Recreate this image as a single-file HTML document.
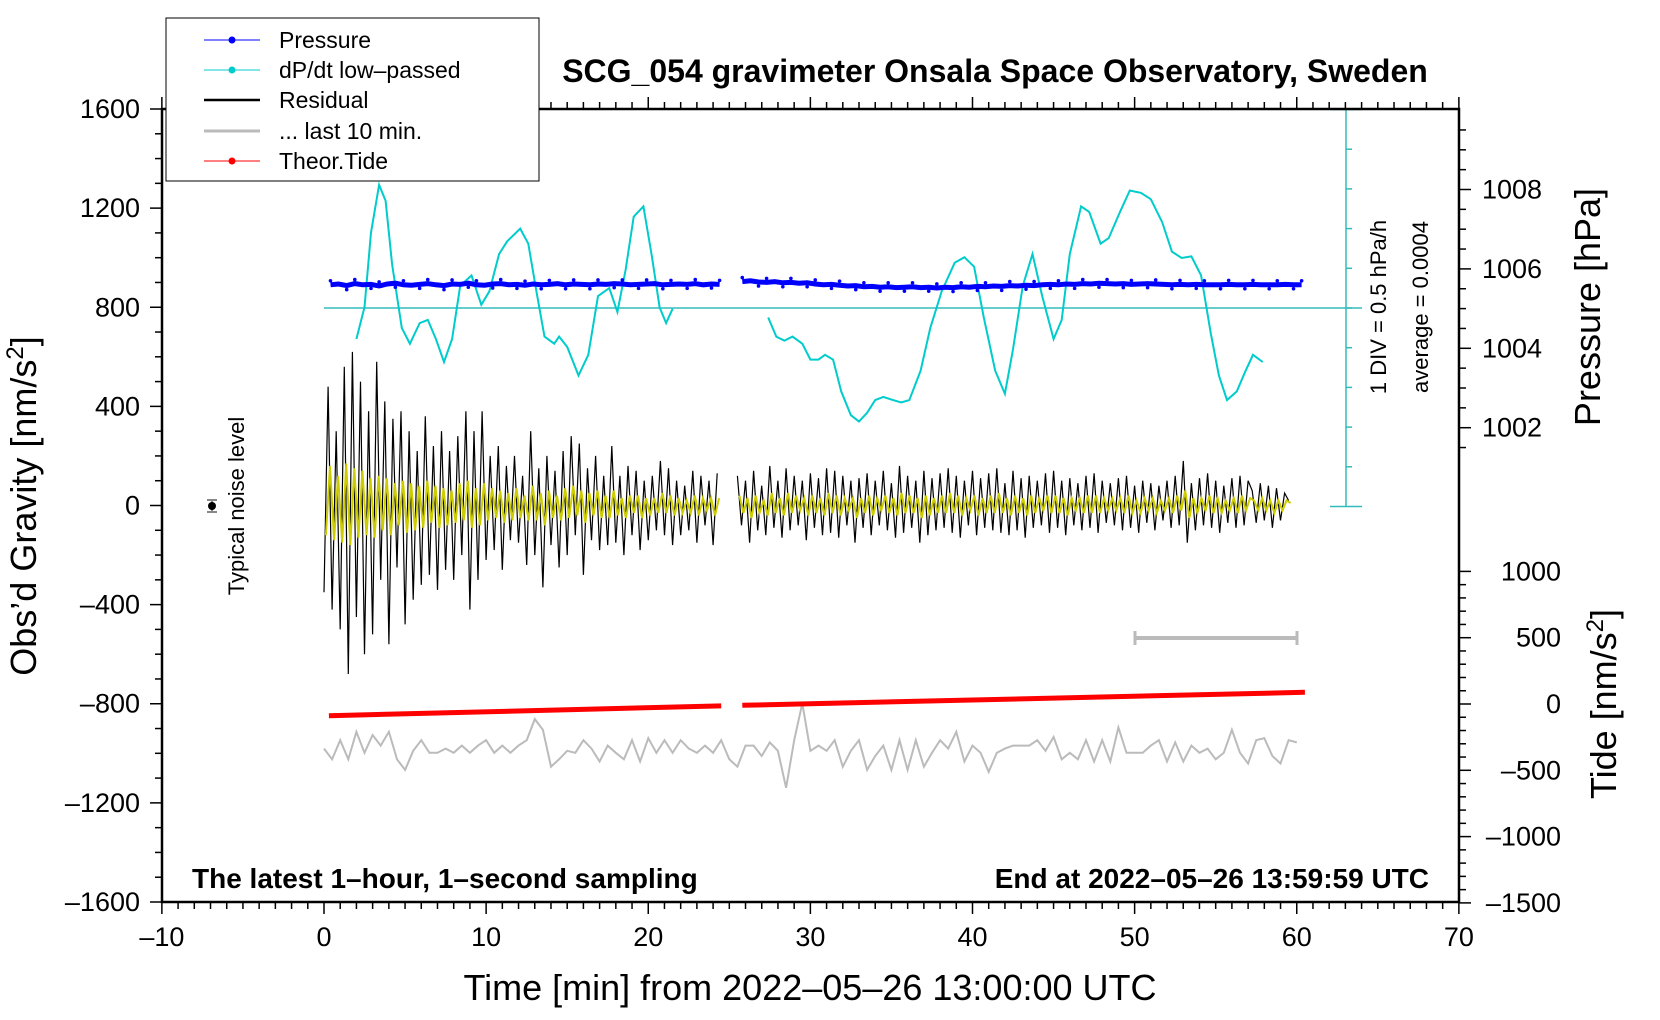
<!DOCTYPE html>
<html><head><meta charset="utf-8">
<style>
html,body{margin:0;padding:0;background:#fff;}
svg{display:block;font-family:"Liberation Sans",Arial,sans-serif;}
</style></head>
<body>
<svg id="chart" width="1660" height="1020" viewBox="0 0 1660 1020" xmlns="http://www.w3.org/2000/svg">
<rect x="0" y="0" width="1660" height="1020" fill="#fff"/>
<g id="ticks"></g>
<g id="series"></g>
<rect x="162" y="109" width="1297" height="793" fill="none" stroke="#000" stroke-width="2.5"/>
<text x="995" y="82" font-size="32" font-weight="bold" text-anchor="middle">SCG_054 gravimeter Onsala Space Observatory, Sweden</text>
<text x="192" y="888" font-size="28" font-weight="bold">The latest 1–hour, 1–second sampling</text>
<text x="1429" y="888" font-size="28" font-weight="bold" text-anchor="end">End at 2022–05–26 13:59:59 UTC</text>
<text transform="translate(36,506) rotate(-90)" font-size="36" text-anchor="middle">Obs’d Gravity [nm/s<tspan dy="-13" font-size="24">2</tspan><tspan dy="13">]</tspan></text>
<text x="810" y="1000" font-size="36" text-anchor="middle">Time [min] from 2022–05–26 13:00:00 UTC</text>
<text transform="translate(1600,307) rotate(-90)" font-size="36" text-anchor="middle">Pressure [hPa]</text>
<text transform="translate(1616,704) rotate(-90)" font-size="36" text-anchor="middle">Tide [nm/s<tspan dy="-13" font-size="24">2</tspan><tspan dy="13">]</tspan></text>
<text transform="translate(244,506) rotate(-90)" font-size="22" text-anchor="middle">Typical noise level</text>
<g>
<line x1="212" y1="500" x2="212" y2="512" stroke="#888" stroke-width="2"/>
<line x1="207" y1="500" x2="217" y2="500" stroke="#888" stroke-width="2"/>
<line x1="207" y1="512" x2="217" y2="512" stroke="#888" stroke-width="2"/>
<circle cx="212" cy="506" r="4" fill="#000"/>
</g>
<text transform="translate(1386,307) rotate(-90)" font-size="22" text-anchor="middle">1 DIV = 0.5 hPa/h</text>
<text transform="translate(1428,307) rotate(-90)" font-size="22" text-anchor="middle">average = 0.0004</text>
<g>
<line x1="1135" y1="638" x2="1297" y2="638" stroke="#bbb" stroke-width="4"/>
<line x1="1135" y1="631" x2="1135" y2="645" stroke="#bbb" stroke-width="3"/>
<line x1="1297" y1="631" x2="1297" y2="645" stroke="#bbb" stroke-width="3"/>
</g>
<g>
<rect x="166" y="18" width="373" height="163" fill="#fff" stroke="#000" stroke-width="1"/>
<g><line x1="204" y1="40" x2="260" y2="40" stroke="#00f" stroke-width="1"/><circle cx="232" cy="40" r="3.5" fill="#00f"/><text x="279" y="48" font-size="23">Pressure</text></g>
<g><line x1="204" y1="70" x2="260" y2="70" stroke="#0cc" stroke-width="1"/><circle cx="232" cy="70" r="3.5" fill="#0cc"/><text x="279" y="78" font-size="23">dP/dt low–passed</text></g>
<g><line x1="204" y1="100" x2="260" y2="100" stroke="#000" stroke-width="2.5"/><text x="279" y="108" font-size="23">Residual</text></g>
<g><line x1="204" y1="131" x2="260" y2="131" stroke="#bbb" stroke-width="3"/><text x="279" y="139" font-size="23">... last 10 min.</text></g>
<g><line x1="204" y1="161" x2="260" y2="161" stroke="#f00" stroke-width="1"/><circle cx="232" cy="161" r="3.5" fill="#f00"/><text x="279" y="169" font-size="23">Theor.Tide</text></g>
</g>
</svg>
<script>
// ---------- data ----------
const xTickLabels = [-10,0,10,20,30,40,50,60,70];
const gravTickLabels = [1600,1200,800,400,0,-400,-800,-1200,-1600];
const pressTickLabels = [1008,1006,1004,1002];
const tideTickLabels = [1000,500,0,-500,-1000,-1500];

const dpSeg1T = [2.0,2.5,2.9,3.4,3.8,4.2,4.8,5.3,5.9,6.4,6.9,7.4,7.9,8.4,9.1,9.7,10.2,10.8,11.3,12.1,12.6,13.1,13.6,14.2,14.5,15.0,15.7,16.3,16.9,17.6,18.1,18.6,19.1,19.7,20.2,20.7,21.1,21.5];
const dpSeg1V = [-0.39,0.01,0.95,1.55,1.35,0.55,-0.25,-0.45,-0.19,-0.15,-0.39,-0.68,-0.39,0.28,0.41,0.04,0.21,0.68,0.84,1.0,0.81,0.21,-0.36,-0.45,-0.36,-0.49,-0.85,-0.59,0.15,0.25,-0.05,0.48,1.15,1.28,0.68,0.01,-0.19,-0.01];
const dpSeg2T = [27.4,27.9,28.4,28.9,29.5,30.0,30.5,30.9,31.4,31.9,32.5,33.0,33.5,34.0,34.5,35.1,35.6,36.1,36.8,37.4,38.1,38.9,39.5,40.1,40.7,41.4,42.0,42.5,43.1,43.7,44.3,45.0,45.5,46.0,46.7,47.2,47.9,48.4,49.1,49.7,50.4,51.0,51.7,52.3,52.9,53.5,54.1,54.7,55.2,55.7,56.3,56.8,57.3,57.9];
const dpSeg2V = [-0.12,-0.36,-0.41,-0.36,-0.45,-0.65,-0.65,-0.59,-0.65,-1.05,-1.35,-1.43,-1.32,-1.16,-1.12,-1.16,-1.19,-1.16,-0.79,-0.25,0.21,0.57,0.64,0.52,-0.12,-0.79,-1.08,-0.52,0.28,0.68,0.15,-0.39,-0.15,0.68,1.28,1.21,0.81,0.88,1.21,1.48,1.45,1.37,1.08,0.71,0.63,0.65,0.41,-0.32,-0.85,-1.16,-1.05,-0.81,-0.59,-0.68];

const pressSeg1 = [1005.60,1005.62,1005.58,1005.63,1005.60,1005.61,1005.57,1005.62,1005.64,1005.60,1005.59,1005.61,1005.63,1005.60,1005.58,1005.62,1005.61,1005.64,1005.60,1005.59,1005.62,1005.63,1005.60,1005.61,1005.59,1005.62,1005.60,1005.61,1005.63,1005.60,1005.62,1005.61,1005.60,1005.62,1005.61,1005.63,1005.62,1005.60,1005.61,1005.62,1005.63,1005.60,1005.61,1005.62,1005.61,1005.63,1005.60,1005.62,1005.61];
const pressSeg2 = [1005.68,1005.70,1005.67,1005.66,1005.68,1005.65,1005.66,1005.64,1005.65,1005.62,1005.60,1005.61,1005.59,1005.57,1005.58,1005.55,1005.56,1005.54,1005.55,1005.53,1005.54,1005.55,1005.53,1005.54,1005.52,1005.54,1005.53,1005.55,1005.54,1005.56,1005.55,1005.57,1005.56,1005.58,1005.57,1005.59,1005.58,1005.60,1005.61,1005.60,1005.62,1005.61,1005.63,1005.62,1005.64,1005.63,1005.62,1005.63,1005.61,1005.62,1005.63,1005.62,1005.61,1005.60,1005.61,1005.60,1005.61,1005.60,1005.60,1005.60,1005.61,1005.60,1005.60,1005.61,1005.60,1005.60,1005.60,1005.61,1005.60,1005.60];

const resSeg1 = [-350,480,-420,300,-500,560,-680,620,-450,500,-600,380,-520,580,-300,420,-560,350,-250,380,-480,300,-380,220,-320,360,-280,240,-340,300,-260,220,-300,280,-200,380,-420,300,-300,380,-220,200,-180,240,-260,160,-140,200,-150,120,-240,300,-200,150,-330,200,-160,140,-250,220,-200,280,-120,250,-280,150,-140,200,-180,120,-160,240,-150,120,-200,160,-120,140,-180,100,-140,120,-100,180,-120,150,-160,100,-120,80,-100,140,-150,120,-80,100,-160,130];
const resSeg2 = [120,-80,100,-150,140,-100,80,-120,160,-90,100,-130,150,-100,120,-80,100,-140,130,-90,110,-120,150,-110,140,-130,120,-80,100,-150,110,-90,130,-120,100,-80,140,-100,90,-130,160,-110,120,-90,100,-150,140,-120,110,-100,130,-90,150,-110,120,-130,100,-80,140,-120,110,-90,130,-100,150,-110,90,-120,140,-100,110,-130,120,-90,100,-80,130,-110,140,-90,100,-120,110,-80,90,-100,120,-90,130,-110,100,-70,90,-80,110,-100,120,-90,80,-110,100,-70,90,-100,80,-60,100,-90,120,-80,180,-150,90,-100,110,-80,130,-90,100,-110,80,-70,110,-90,120,-80,100,60,-70,90,-60,80,-90,70,-60,50,20];
const yelSeg1 = [-120,160,-140,120,-150,170,-160,150,-130,140,-120,110,-130,120,-100,110,-120,90,-80,100,-110,90,-100,80,-90,100,-70,80,-90,70,-80,60,-70,90,-60,100,-90,70,-80,90,-60,70,-50,60,-70,50,-60,70,-50,40,-60,80,-60,50,-80,60,-50,40,-60,70,-50,80,-40,60,-70,50,-40,60,-50,40,-50,60,-40,30,-50,40,-30,40,-50,30,-40,30,-30,50,-30,40,-40,30,-30,20,-30,40,-40,30,-20,30,-40,30];
const yelSeg2 = [40,-30,30,-50,40,-30,20,-40,50,-30,30,-40,50,-30,40,-20,30,-40,40,-30,30,-40,50,-30,40,-40,30,-20,30,-50,30,-30,40,-40,30,-20,40,-30,30,-40,50,-30,40,-30,30,-50,40,-40,30,-30,40,-30,50,-30,40,-40,30,-20,40,-40,30,-30,40,-30,50,-30,30,-40,40,-30,30,-40,40,-30,30,-20,40,-30,40,-30,30,-40,30,-20,30,-30,40,-30,40,-30,30,-20,30,-20,30,-30,40,-30,20,-30,30,-20,30,-30,20,-20,30,-30,40,-20,60,-50,30,-30,30,-20,40,-30,30,-30,20,-20,30,-30,40,-20,30,20,-20,30,-20,20,-30,20,-20,20,10];

const grayVals = [-981,-1024,-947,-1024,-913,-998,-926,-969,-913,-1024,-1067,-990,-947,-998,-998,-981,-998,-969,-998,-969,-947,-998,-969,-998,-969,-947,-862,-905,-1054,-1024,-990,-998,-947,-981,-1033,-969,-998,-1024,-947,-1033,-939,-998,-947,-998,-947,-981,-998,-969,-998,-947,-1024,-1054,-969,-969,-1011,-956,-990,-1139,-947,-798,-990,-969,-990,-947,-1054,-990,-947,-1067,-1011,-969,-1067,-947,-1067,-947,-1054,-998,-947,-981,-913,-1033,-969,-998,-1075,-998,-981,-969,-969,-969,-947,-990,-934,-1024,-998,-1024,-947,-1033,-947,-1033,-896,-998,-998,-998,-969,-947,-1033,-956,-1033,-969,-998,-981,-1024,-998,-905,-998,-1041,-947,-939,-1011,-1041,-947,-956];

const tideSeg1T = [0.3,24.5];
const tideSeg1V = [-88,-14];
const tideSeg2T = [25.8,60.5];
const tideSeg2V = [-10,88];

// ---------- axes ----------
const X = t => 324 + t*16.2125;
const YG = g => 505.5 - g*0.24781;
const YP = p => 189.5 + (1008-p)*39.7;
const YT = v => 704 - v*0.1326;
const YD = v => 308 - v*79.4;

const NS = "http://www.w3.org/2000/svg";
const tk = document.getElementById('ticks');
const se = document.getElementById('series');
function mk(tag, attrs, parent){ const e=document.createElementNS(NS,tag); for(const k in attrs) e.setAttribute(k,attrs[k]); parent.appendChild(e); return e; }

for(let m=-10;m<=70;m++){
  const x=X(m); const major = m%10===0; const len = major?12:7;
  const a=mk('line',{x1:x,y1:902,x2:x,y2:902+len,stroke:'#000','stroke-width':1.5},tk);
  
  
  const b=mk('line',{x1:x,y1:109,x2:x,y2:109-len,stroke:'#000','stroke-width':1.5},tk);
  
  
}
xTickLabels.forEach(v=>{
  const t=mk('text',{x:X(v),y:946,'font-size':27,'text-anchor':'middle'},tk);
  t.textContent = v<0 ? '–'+Math.abs(v) : String(v);
  
  
});
for(let g=-1600; g<=1600; g+=100){
  const y=YG(g); const major=g%400===0;
  const l=mk('line',{x1:162-(major?12:7),y1:y,x2:162,y2:y,stroke:'#000','stroke-width':1.5},tk);
  
  
}
gravTickLabels.forEach(v=>{
  const t=mk('text',{x:140,y:YG(v)+9,'font-size':27,'text-anchor':'end'},tk);
  t.textContent = v<0 ? '–'+Math.abs(v) : String(v);
  
  
});
for(let p=1000.5;p<=1009.5;p+=0.5){
  const y=YP(p); if(y<109||y>465) continue; const major = Math.abs(p%2)<1e-6;
  const l=mk('line',{x1:1459,y1:y,x2:1459+(major?12:7),y2:y,stroke:'#000','stroke-width':1.5},tk);
  
  
}
pressTickLabels.forEach(v=>{
  const t=mk('text',{x:1482,y:YP(v)+9,'font-size':27},tk);
  t.textContent=String(v);
  
  
});
for(let v=-1500; v<=1000; v+=100){
  const y=YT(v); const major = v%500===0;
  const l=mk('line',{x1:1459,y1:y,x2:1459+(major?12:7),y2:y,stroke:'#000','stroke-width':1.5},tk);
  
  
}
tideTickLabels.forEach(v=>{
  const t=mk('text',{x:1561,y:YT(v)+9,'font-size':27,'text-anchor':'end'},tk);
  t.textContent = v<0 ? '–'+Math.abs(v) : String(v);
  
  
});
const sb=mk('line',{x1:1346,y1:YD(2.5),x2:1346,y2:YD(-2.5),stroke:'#3bb',"stroke-width":1.5},tk);


for(let d=-2.5; d<=2.5001; d+=0.5){
  const y=YD(d); const end = Math.abs(Math.abs(d)-2.5)<1e-6;
  const l=mk('line',{x1:end?1330:1346,y1:y,x2:end?1362:1352,y2:y,stroke:'#3bb','stroke-width':1.5},tk);
  
  
}
const zl=mk('line',{x1:X(0),y1:YD(0),x2:1362,y2:YD(0),stroke:'#3bb','stroke-width':1.5},se);



function pathFrom(ts, vs, yf){ return ts.map((t,i)=>(i?'L':'M')+X(t).toFixed(1)+' '+yf(vs[i]).toFixed(1)).join(' '); }
function stepT(start, step, arr){ return arr.map((_,i)=>start+i*step); }

[[0,resSeg1],[25.5,resSeg2]].forEach(([s,arr])=>{
  const p=mk('path',{d:pathFrom(stepT(s,0.25,arr),arr,YG),fill:'none',stroke:'#000','stroke-width':1.2},se);
  
  
});
[[0,yelSeg1],[25.5,yelSeg2]].forEach(([s,arr])=>{
  const p=mk('path',{d:pathFrom(stepT(s+0.12,0.25,arr),arr,YG),fill:'none',stroke:'#cc0','stroke-width':2},se);
  
  
});
{
  const ts=stepT(0,0.5,grayVals);
  const p=mk('path',{d:pathFrom(ts,grayVals,YG),fill:'none',stroke:'#bbb','stroke-width':2},se);
  
  
}
[[dpSeg1T,dpSeg1V],[dpSeg2T,dpSeg2V]].forEach(([ts,vs])=>{
  const p=mk('path',{d:pathFrom(ts,vs,YD),fill:'none',stroke:'#0cc','stroke-width':2},se);
  
  
});
[[0.4,pressSeg1],[25.8,pressSeg2]].forEach(([s,arr])=>{
  const ts=stepT(s,0.5,arr);
  const p=mk('path',{d:pathFrom(ts,arr,YP),fill:'none',stroke:'#00f','stroke-width':5},se);
  
  
  ts.forEach((t,i)=>{
    const c=mk('circle',{cx:X(t),cy:YP(arr[i])+(i%3-1)*4,r:1.8,fill:'#00f'},se);
    
    
  });
});
[[tideSeg1T,tideSeg1V],[tideSeg2T,tideSeg2V]].forEach(([ts,vs])=>{
  const p=mk('path',{d:pathFrom(ts,vs,YT),fill:'none',stroke:'#f00','stroke-width':5},se);
  
  
});
</script>
</body></html>
